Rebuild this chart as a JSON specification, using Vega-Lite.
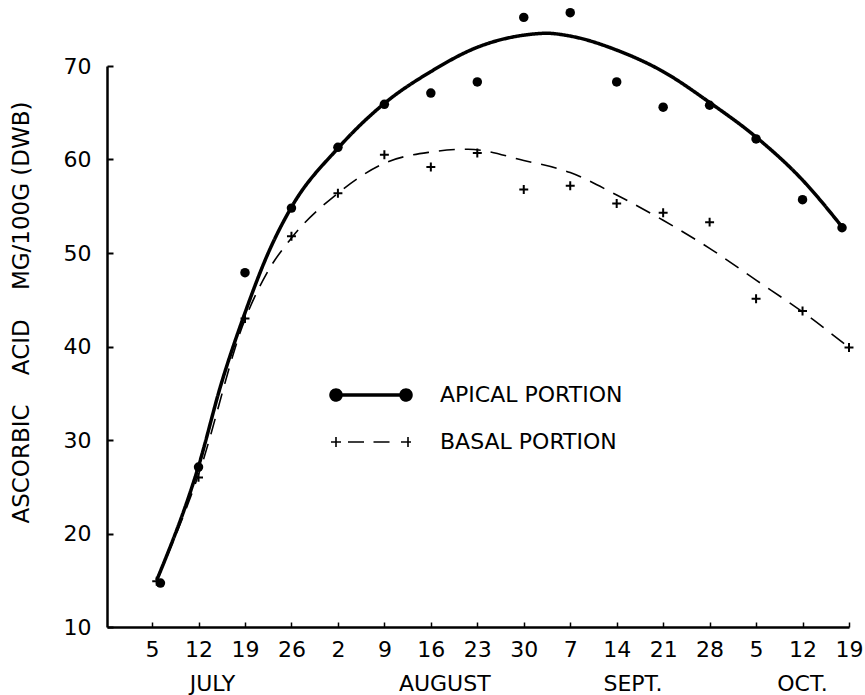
{
  "$schema": "https://vega.github.io/schema/vega-lite/v6.json",
  "autosize": "none",
  "width": 742,
  "height": 561,
  "padding": {"left": 107, "top": 66, "right": 16, "bottom": 68},
  "background": "white",
  "config": {
    "view": {"stroke": null},
    "font": "DejaVu Sans",
    "axis": {"grid": false, "domainColor": "black", "tickColor": "black", "labelColor": "black", "titleColor": "black", "labelFont": "DejaVu Sans", "titleFont": "DejaVu Sans"}
  },
  "datasets": {
    "curves": [
      {"series": "APICAL PORTION", "idx": 0.1, "val": 15.0},
      {"series": "APICAL PORTION", "idx": 1, "val": 27.2},
      {"series": "APICAL PORTION", "idx": 1.5, "val": 36.2},
      {"series": "APICAL PORTION", "idx": 2, "val": 43.6},
      {"series": "APICAL PORTION", "idx": 2.5, "val": 50.0},
      {"series": "APICAL PORTION", "idx": 3, "val": 54.9},
      {"series": "APICAL PORTION", "idx": 4, "val": 61.2},
      {"series": "APICAL PORTION", "idx": 5, "val": 66.0},
      {"series": "APICAL PORTION", "idx": 6, "val": 69.4},
      {"series": "APICAL PORTION", "idx": 7, "val": 72.0},
      {"series": "APICAL PORTION", "idx": 8, "val": 73.3},
      {"series": "APICAL PORTION", "idx": 8.5, "val": 73.5},
      {"series": "APICAL PORTION", "idx": 9, "val": 73.2},
      {"series": "APICAL PORTION", "idx": 10, "val": 71.7},
      {"series": "APICAL PORTION", "idx": 11, "val": 69.4},
      {"series": "APICAL PORTION", "idx": 12, "val": 66.1},
      {"series": "APICAL PORTION", "idx": 13, "val": 62.4},
      {"series": "APICAL PORTION", "idx": 14, "val": 57.8},
      {"series": "APICAL PORTION", "idx": 14.85, "val": 52.8},
      {"series": "BASAL PORTION", "idx": 0.1, "val": 15.0},
      {"series": "BASAL PORTION", "idx": 1, "val": 26.3},
      {"series": "BASAL PORTION", "idx": 2, "val": 42.9},
      {"series": "BASAL PORTION", "idx": 2.5, "val": 48.1},
      {"series": "BASAL PORTION", "idx": 3, "val": 51.6},
      {"series": "BASAL PORTION", "idx": 4, "val": 56.4},
      {"series": "BASAL PORTION", "idx": 5, "val": 59.6},
      {"series": "BASAL PORTION", "idx": 6, "val": 60.8},
      {"series": "BASAL PORTION", "idx": 6.8, "val": 61.1},
      {"series": "BASAL PORTION", "idx": 8, "val": 59.9},
      {"series": "BASAL PORTION", "idx": 9, "val": 58.6},
      {"series": "BASAL PORTION", "idx": 10, "val": 56.2},
      {"series": "BASAL PORTION", "idx": 11, "val": 53.5},
      {"series": "BASAL PORTION", "idx": 12, "val": 50.5},
      {"series": "BASAL PORTION", "idx": 13, "val": 47.1},
      {"series": "BASAL PORTION", "idx": 14, "val": 43.7},
      {"series": "BASAL PORTION", "idx": 15, "val": 39.9}
    ],
    "points": [
      {"series": "APICAL PORTION", "idx": 0.18, "val": 14.7},
      {"series": "APICAL PORTION", "idx": 1, "val": 27.1},
      {"series": "APICAL PORTION", "idx": 2, "val": 47.9},
      {"series": "APICAL PORTION", "idx": 3, "val": 54.8},
      {"series": "APICAL PORTION", "idx": 4, "val": 61.3},
      {"series": "APICAL PORTION", "idx": 5, "val": 65.9},
      {"series": "APICAL PORTION", "idx": 6, "val": 67.1},
      {"series": "APICAL PORTION", "idx": 7, "val": 68.3},
      {"series": "APICAL PORTION", "idx": 8, "val": 75.2},
      {"series": "APICAL PORTION", "idx": 9, "val": 75.7},
      {"series": "APICAL PORTION", "idx": 10, "val": 68.3},
      {"series": "APICAL PORTION", "idx": 11, "val": 65.6},
      {"series": "APICAL PORTION", "idx": 12, "val": 65.8},
      {"series": "APICAL PORTION", "idx": 13, "val": 62.2},
      {"series": "APICAL PORTION", "idx": 14, "val": 55.7},
      {"series": "APICAL PORTION", "idx": 14.85, "val": 52.7},
      {"series": "BASAL PORTION", "idx": 0.1, "val": 14.9},
      {"series": "BASAL PORTION", "idx": 1, "val": 26.0},
      {"series": "BASAL PORTION", "idx": 2, "val": 43.0},
      {"series": "BASAL PORTION", "idx": 3, "val": 51.8},
      {"series": "BASAL PORTION", "idx": 4, "val": 56.4},
      {"series": "BASAL PORTION", "idx": 5, "val": 60.5},
      {"series": "BASAL PORTION", "idx": 6, "val": 59.2},
      {"series": "BASAL PORTION", "idx": 7, "val": 60.7},
      {"series": "BASAL PORTION", "idx": 8, "val": 56.8},
      {"series": "BASAL PORTION", "idx": 9, "val": 57.2},
      {"series": "BASAL PORTION", "idx": 10, "val": 55.3},
      {"series": "BASAL PORTION", "idx": 11, "val": 54.3},
      {"series": "BASAL PORTION", "idx": 12, "val": 53.3},
      {"series": "BASAL PORTION", "idx": 13, "val": 45.1},
      {"series": "BASAL PORTION", "idx": 14, "val": 43.8},
      {"series": "BASAL PORTION", "idx": 15, "val": 39.9}
    ],
    "months": [
      {"month": "JULY", "pos": 1.3},
      {"month": "AUGUST", "pos": 6.3},
      {"month": "SEPT.", "pos": 10.35},
      {"month": "OCT.", "pos": 14.0}
    ]
  },
  "layer": [
    {
      "data": {"name": "curves"},
      "mark": {"type": "line", "interpolate": "monotone"},
      "encoding": {
        "x": {
          "field": "idx", "type": "quantitative",
          "scale": {"domain": [-0.97, 15], "nice": false, "zero": false},
          "axis": {
            "values": [0,1,2,3,4,5,6,7,8,9,10,11,12,13,14,15],
            "labelExpr": "['5','12','19','26','2','9','16','23','30','7','14','21','28','5','12','19'][datum.value]",
            "title": null, "domainWidth": 2.5, "tickSize": -5, "tickWidth": 1.5,
            "labelFontSize": 22, "labelPadding": 17, "labelFlush": false, "labelOverlap": false
          }
        },
        "y": {
          "field": "val", "type": "quantitative",
          "scale": {"domain": [10, 70], "nice": false, "zero": false},
          "axis": {
            "values": [10,20,30,40,50,60,70],
            "title": "ASCORBIC\u00a0\u00a0\u00a0\u00a0ACID\u00a0\u00a0\u00a0\u00a0MG/100G (DWB)",
            "titleFontSize": 23, "titleFontWeight": "normal", "titlePadding": 30, "titleY": 246,
            "domainWidth": 2.5, "tickSize": -6, "tickWidth": 2,
            "labelFontSize": 22, "labelPadding": 22, "labelFlush": false
          }
        },
        "color": {
          "field": "series", "type": "nominal",
          "scale": {"domain": ["APICAL PORTION", "BASAL PORTION"], "range": ["black", "black"]},
          "legend": {
            "orient": "none", "legendX": 253, "legendY": 318, "title": null,
            "symbolSize": 100, "labelOffset": 58, "rowPadding": 24, "labelLimit": 0,
            "labelFontSize": 22, "labelFont": "DejaVu Sans", "labelColor": "black",
            "encode": {
              "symbols": {
                "update": {
                  "shape": {"signal": "datum.value === 'APICAL PORTION' ? 'M-7,0L7,0M-6,0A1,1,0,1,1,-8,0A1,1,0,1,1,-6,0ZM8,0A1,1,0,1,1,6,0A1,1,0,1,1,8,0Z' : 'M-7,-1L-7,1M-8,0L-6,0M-4.6,0L-0.5,0M0.5,0L4.6,0M6,0L8,0M7.4,-1L7.4,1'"},
                  "fill": {"value": "black"},
                  "stroke": {"value": "black"},
                  "strokeWidth": {"value": 2.2},
                  "strokeDash": {"value": [1, 0]},
                  "opacity": {"value": 1}
                }
              }
            }
          }
        },
        "strokeDash": {
          "field": "series", "type": "nominal",
          "scale": {"domain": ["APICAL PORTION", "BASAL PORTION"], "range": [[1, 0], [16, 10]]},
          "legend": null
        },
        "strokeWidth": {
          "field": "series", "type": "nominal",
          "scale": {"domain": ["APICAL PORTION", "BASAL PORTION"], "range": [3.5, 1.6]},
          "legend": null
        }
      }
    },
    {
      "data": {"name": "points"},
      "transform": [{"filter": "datum.series === 'APICAL PORTION'"}],
      "mark": {"type": "point", "filled": true, "color": "black", "opacity": 1, "size": 90},
      "encoding": {
        "x": {"field": "idx", "type": "quantitative"},
        "y": {"field": "val", "type": "quantitative"}
      }
    },
    {
      "data": {"name": "points"},
      "transform": [{"filter": "datum.series === 'BASAL PORTION'"}],
      "mark": {"type": "point", "filled": false, "stroke": "black", "strokeWidth": 2, "opacity": 1, "size": 80, "shape": "M-1,0L1,0M0,-1L0,1"},
      "encoding": {
        "x": {"field": "idx", "type": "quantitative"},
        "y": {"field": "val", "type": "quantitative"}
      }
    },
    {
      "data": {"name": "months"},
      "mark": {"type": "text", "fontSize": 22, "font": "DejaVu Sans", "color": "black", "dy": 57, "baseline": "middle"},
      "encoding": {
        "x": {"field": "pos", "type": "quantitative"},
        "y": {"datum": 10},
        "text": {"field": "month"}
      }
    }
  ]
}
